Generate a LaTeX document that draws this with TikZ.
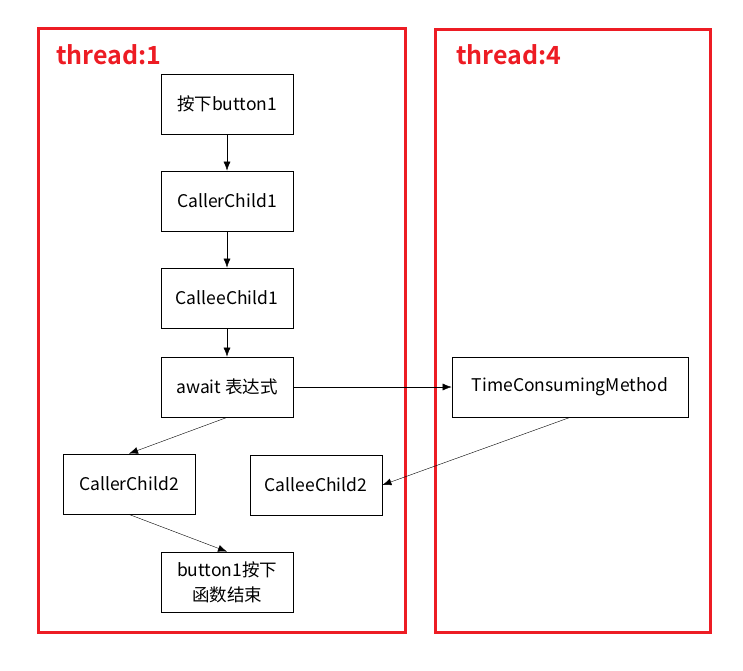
\documentclass[tikz,border=0pt]{standalone}
\usepackage{fontspec}
\setmainfont{Noto Sans CJK SC}[BoldFont={Noto Sans CJK SC Bold}]
\usetikzlibrary{arrows.meta}
\definecolor{lanered}{RGB}{237,28,36}

\begin{document}
\begin{tikzpicture}[x=1pt,y=-1pt,
	box/.style={draw,line width=0.8pt,minimum width=132pt,minimum height=60pt,inner sep=0pt,align=center,font=\fontsize{17.5}{25}\selectfont},
	lane/.style={draw=lanered,line width=3pt},
	tag/.style={text=lanered,anchor=west,inner sep=0pt,font=\fontsize{25}{28}\selectfont\bfseries},
	>={Latex[length=9pt,width=7pt]}]
			\useasboundingbox (0,0) rectangle (743,670);
			% two threads
			\draw[lane] (38,28) rectangle (405,632);
			\draw[lane] (435,29) rectangle (710,632);
			\node[tag] (t1) at (56,55) {thread:1};
			\node[tag] (t4) at (456,55) {thread:4};
			% thread 1
			\node[box] (press) at (227,104) {按下button1};
			\node[box] (caller1) at (227,201) {CallerChild1};
			\node[box] (callee1) at (227,298) {CalleeChild1};
			\node[box] (await) at (227,387) {await 表达式};
			\node[box] (caller2) at (129,484) {CallerChild2};
			\node[box] (callee2) at (316,485) {CalleeChild2};
			\node[box] (done) at (227,582) {button1按下\\函数结束};
			% thread 4
			\node[box,minimum width=236pt] (tcm) at (570,387) {TimeConsumingMethod};
			% flow
			\draw[->] (press) -- (caller1);
			\draw[->] (caller1) -- (callee1);
			\draw[->] (callee1) -- (await);
			\draw[->] (await.south) -- (caller2.north);
			\draw[->] (caller2.south) -- (done.north);
			\draw[->] (await) -- (tcm);
			\draw[->] (tcm.south) -- (callee2.east);
		\end{tikzpicture}
\end{document}
